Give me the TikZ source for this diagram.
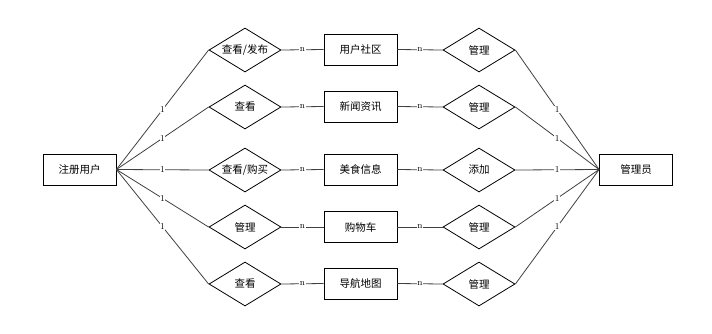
\documentclass[tikz,border=0pt]{standalone}
\usepackage{fontspec}
\newfontfamily\cjk{Noto Sans CJK SC}
\usetikzlibrary{shapes.geometric}

\begin{document}
\begin{tikzpicture}[
    x=1pt, y=-1pt,
    entity/.style={rectangle, draw, thick, minimum width=73pt, minimum height=31pt, inner sep=1pt, font=\cjk\fontsize{10.5}{12}\selectfont},
    relation/.style={diamond, draw, thick, aspect=1.64, minimum width=72pt, minimum height=44pt, inner sep=0pt, font=\cjk\fontsize{10.5}{12}\selectfont},
    link/.style={draw=black!75, line width=0.8pt},
    card/.style={fill=white, inner sep=0.6pt, font=\fontsize{9}{10}\selectfont}
]
\useasboundingbox (0, 0) rectangle (712, 333);

% Entities at both ends
\node[entity] (user) at (79.5, 169.5) {注册用户};
\node[entity] (admin) at (636, 169.5) {管理员};

% Left relations
\node[relation] (rel1) at (245, 50) {查看/发布};
\node[relation] (rel2) at (245, 107) {查看};
\node[relation] (rel3) at (245, 170) {查看/购买};
\node[relation] (rel4) at (245, 227) {管理};
\node[relation] (rel5) at (245, 284) {查看};

% Middle entities
\node[entity] (ent1) at (360.5, 49.5) {用户社区};
\node[entity] (ent2) at (360.5, 106.5) {新闻资讯};
\node[entity] (ent3) at (360.5, 169.5) {美食信息};
\node[entity] (ent4) at (360.5, 227) {购物车};
\node[entity] (ent5) at (360.5, 283.5) {导航地图};

% Right relations
\node[relation] (mgr1) at (479, 50) {管理};
\node[relation] (mgr2) at (479, 107) {管理};
\node[relation] (mgr3) at (479, 170) {添加};
\node[relation] (mgr4) at (479, 227) {管理};
\node[relation] (mgr5) at (479, 284) {管理};

% user side
\draw[link] (user.east) -- node[card] {1} (rel1.west);
\draw[link] (user.east) -- node[card] {1} (rel2.west);
\draw[link] (user.east) -- node[card] {1} (rel3.west);
\draw[link] (user.east) -- node[card] {1} (rel4.west);
\draw[link] (user.east) -- node[card] {1} (rel5.west);

% relation -- entity -- relation
\draw[link] (rel1.east) -- node[card] {n} (ent1.west);
\draw[link] (rel2.east) -- node[card] {n} (ent2.west);
\draw[link] (rel3.east) -- node[card] {n} (ent3.west);
\draw[link] (rel4.east) -- node[card] {n} (ent4.west);
\draw[link] (rel5.east) -- node[card] {n} (ent5.west);
\draw[link] (ent1.east) -- node[card] {n} (mgr1.west);
\draw[link] (ent2.east) -- node[card] {n} (mgr2.west);
\draw[link] (ent3.east) -- node[card] {n} (mgr3.west);
\draw[link] (ent4.east) -- node[card] {n} (mgr4.west);
\draw[link] (ent5.east) -- node[card] {n} (mgr5.west);

% admin side
\draw[link] (mgr1.east) -- node[card] {1} (admin.west);
\draw[link] (mgr2.east) -- node[card] {1} (admin.west);
\draw[link] (mgr3.east) -- node[card] {1} (admin.west);
\draw[link] (mgr4.east) -- node[card] {1} (admin.west);
\draw[link] (mgr5.east) -- node[card] {1} (admin.west);

\end{tikzpicture}
\end{document}
